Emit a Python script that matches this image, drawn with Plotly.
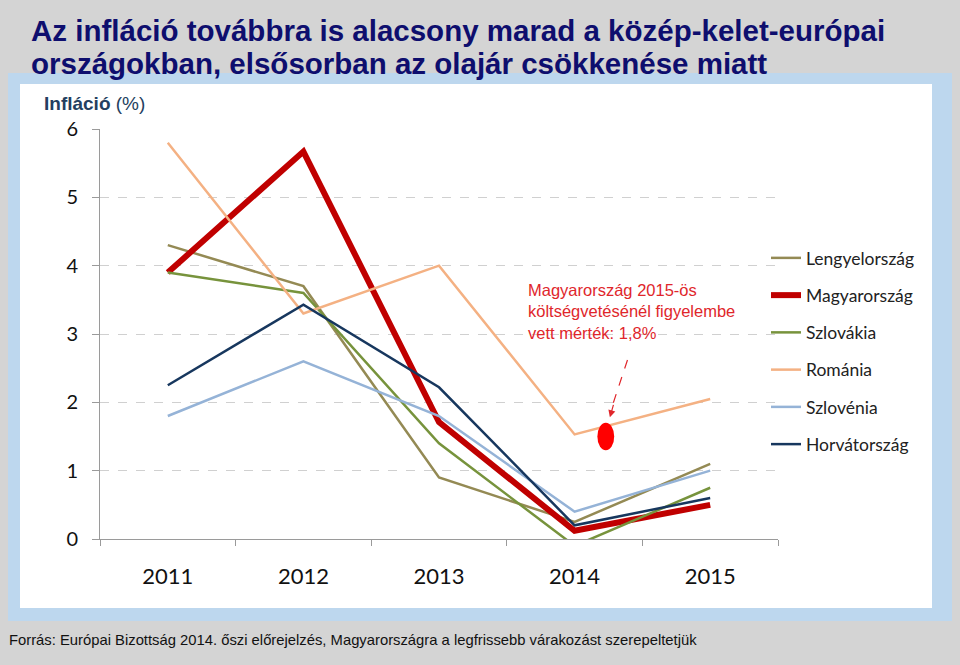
import plotly.graph_objects as go

# Inflation (%) by country
years = [2011, 2012, 2013, 2014, 2015]
lengyelorszag = [4.3, 3.7, 0.9, 0.25, 1.1]
magyarorszag = [3.9, 5.67, 1.71, 0.12, 0.5]
szlovakia = [3.9, 3.6, 1.4, -0.1, 0.75]
romania = [5.8, 3.3, 4.0, 1.53, 2.05]
szlovenia = [1.8, 2.6, 1.8, 0.4, 1.0]
horvatorszag = [2.25, 3.43, 2.22, 0.2, 0.6]

series = [
    ("Lengyelország", lengyelorszag, "#948A54", 2.5),
    ("Magyarország", magyarorszag, "#C00000", 6),
    ("Szlovákia", szlovakia, "#77933C", 2.5),
    ("Románia", romania, "#F4B183", 2.5),
    ("Szlovénia", szlovenia, "#95B3D7", 2.5),
    ("Horvátország", horvatorszag, "#17375E", 2.5),
]

# budget assumption marker (Hungary 2015)
budget_x = 2014.23
budget_y = 1.5
note_text = "Magyarország 2015-ös<br>költségvetésénél figyelembe<br>vett mérték: 1,8%"

title_lines = [
    "Az infláció továbbra is alacsony marad a közép-kelet-európai",
    "országokban, elsősorban az olajár csökkenése miatt",
]

W, H = 960, 665
L, R, T, B = 100, 778, 129, 539  # plot area in pixels


def px(x):
    return (x - L) / (R - L)


def py(y):
    return (B - y) / (B - T)


fig = go.Figure()
for i, (name, vals, color, width) in enumerate(series):
    fig.add_trace(go.Scatter(
        x=years, y=vals, mode="lines", name=name,
        line=dict(color=color, width=width),
        legendgroup=f"g{i}",
    ))

shapes = [
    # light blue frame and white panel
    dict(type="rect", xref="paper", yref="paper", x0=px(8), x1=px(952), y0=py(621), y1=py(73),
         fillcolor="#BDD7EE", line=dict(width=0), layer="below"),
    dict(type="rect", xref="paper", yref="paper", x0=px(20), x1=px(932), y0=py(608), y1=py(84),
         fillcolor="white", line=dict(width=0), layer="below"),
    # red dot
    dict(type="circle", xref="x", yref="y",
         x0=budget_x - 0.062, x1=budget_x + 0.062, y0=budget_y - 0.2, y1=budget_y + 0.2,
         fillcolor="#FF0000", line=dict(width=0)),
    # dashed arrow shaft
    dict(type="line", xref="x", yref="y", x0=2014.39, y0=2.62, x1=2014.27, y1=1.9,
         line=dict(color="#E0262B", width=1.2, dash="dash")),
]

title_font = dict(family="Liberation Sans Narrow, Arial Narrow, Arial", size=29.5, color="#0E0E6E")
annotations = [
    dict(xref="paper", yref="paper", x=px(29), y=py(30), xanchor="left", yanchor="middle",
         text=f"<b>{title_lines[0]}</b>", showarrow=False, font=title_font),
    dict(xref="paper", yref="paper", x=px(29), y=py(63), xanchor="left", yanchor="middle",
         text=f"<b>{title_lines[1]}</b>", showarrow=False, font=title_font),
    dict(xref="paper", yref="paper", x=px(42), y=py(104), xanchor="left", yanchor="middle",
         text="<b>Infláció</b> (%)", showarrow=False,
         font=dict(family="Liberation Sans Narrow, Arial", size=19, color="#243F60")),
    dict(xref="paper", yref="paper", x=px(7), y=py(640), xanchor="left", yanchor="middle",
         text="Forrás: Európai Bizottság 2014. őszi előrejelzés, Magyarországra a legfrissebb várakozást szerepeltetjük",
         showarrow=False,
         font=dict(family="Liberation Sans Narrow, Arial", size=14.8, color="#111111")),
    dict(xref="x", yref="y", x=2013.64, y=3.8, xanchor="left", yanchor="top",
         text=note_text, align="left", showarrow=False,
         font=dict(family="Arial", size=16.5, color="#E0262B")),
    # arrow head
    dict(xref="x", yref="y", x=2014.26, y=1.78, ax=4, ay=-14, text="",
         showarrow=True, arrowhead=2, arrowsize=1.2, arrowwidth=1.2, arrowcolor="#E0262B"),
]

fig.update_layout(
    width=W, height=H,
    margin=dict(l=L, r=W - R, t=T, b=H - B, pad=0),
    paper_bgcolor="#D4D4D4",
    plot_bgcolor="rgba(0,0,0,0)",
    shapes=shapes,
    annotations=annotations,
    showlegend=True,
    legend=dict(
        x=px(766), xanchor="left", y=py(240), yanchor="top",
        font=dict(family="Lato", size=17.5, color="#222222"),
        bgcolor="rgba(0,0,0,0)", tracegroupgap=11.5,
    ),
    xaxis=dict(
        range=[2010.5, 2015.5], tickvals=years, ticktext=[str(y) for y in years],
        ticks="", showgrid=False, zeroline=False,
        showline=True, linecolor="#9A9A9A", linewidth=1,
        tickfont=dict(family="Lato", size=22, color="#111111"),
        ticklabelstandoff=18,
        minor=dict(tickvals=[2010.5, 2011.5, 2012.5, 2013.5, 2014.5, 2015.5],
                   ticks="outside", ticklen=6, tickcolor="#9A9A9A", showgrid=False),
        fixedrange=True,
    ),
    yaxis=dict(
        range=[0, 6], tickvals=[0, 1, 2, 3, 4, 5, 6],
        ticks="outside", ticklen=7, tickcolor="#9A9A9A",
        showline=True, linecolor="#9A9A9A", linewidth=1,
        showgrid=True, gridcolor="#D0D0D0", griddash="dash", gridwidth=1,
        zeroline=False,
        tickfont=dict(family="Lato", size=20, color="#111111"),
        ticklabelstandoff=10,
        fixedrange=True,
    ),
)

fig.write_html(
    "out.html",
    config={"displayModeBar": False},
    post_script="document.body.style.margin='0';document.body.style.padding='0';",
)
